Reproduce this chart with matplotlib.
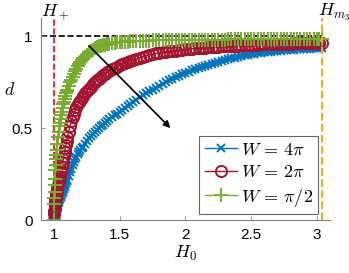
import matplotlib
matplotlib.use("Agg")
import matplotlib.pyplot as plt

plt.rcParams['mathtext.fontset'] = 'cm'
plt.rcParams['font.family'] = ['Liberation Sans', 'DejaVu Sans']

H0 = [1.000, 1.001, 1.002, 1.003, 1.005, 1.007, 1.010, 1.0125, 1.015, 1.0175,
      1.020, 1.025, 1.030, 1.035, 1.040, 1.045, 1.050, 1.055, 1.060, 1.065,
      1.070, 1.075, 1.080, 1.085, 1.090, 1.095, 1.100, 1.110, 1.120, 1.130,
      1.140, 1.150, 1.160, 1.170, 1.180, 1.190, 1.200, 1.210, 1.220, 1.235,
      1.250, 1.265, 1.280, 1.295, 1.310, 1.325, 1.340, 1.355, 1.370, 1.385,
      1.400, 1.420, 1.440, 1.460, 1.480, 1.500, 1.520, 1.540, 1.560, 1.580,
      1.600, 1.625, 1.650, 1.675, 1.700, 1.725, 1.750, 1.775, 1.800, 1.825,
      1.850, 1.875, 1.900, 1.925, 1.950, 1.975, 2.000, 2.025, 2.050, 2.075,
      2.100, 2.125, 2.150, 2.175, 2.200, 2.225, 2.250, 2.275, 2.300, 2.325,
      2.350, 2.375, 2.400, 2.425, 2.450, 2.475, 2.500, 2.525, 2.550, 2.575,
      2.600, 2.625, 2.650, 2.675, 2.700, 2.725, 2.750, 2.775, 2.800, 2.825,
      2.850, 2.875, 2.900, 2.925, 2.950, 2.975, 3.000, 3.020, 3.040]

d_4pi = [0.0, 0.015, 0.022, 0.028, 0.035, 0.042, 0.05, 0.056, 0.062, 0.068,
         0.073, 0.083, 0.092, 0.10, 0.108, 0.116, 0.124, 0.132, 0.14, 0.15,
         0.16, 0.17, 0.18, 0.19, 0.20, 0.21, 0.22, 0.24, 0.26, 0.28,
         0.30, 0.315, 0.33, 0.345, 0.36, 0.37, 0.38, 0.39, 0.40, 0.415,
         0.43, 0.445, 0.46, 0.47, 0.48, 0.49, 0.50, 0.51, 0.52, 0.53,
         0.54, 0.55, 0.56, 0.57, 0.58, 0.59, 0.60, 0.61, 0.62, 0.63,
         0.64, 0.655, 0.67, 0.68, 0.69, 0.70, 0.71, 0.72, 0.73, 0.74,
         0.75, 0.76, 0.77, 0.778, 0.785, 0.793, 0.80, 0.808, 0.815, 0.823,
         0.83, 0.835, 0.84, 0.845, 0.85, 0.855, 0.86, 0.865, 0.87, 0.875,
         0.88, 0.885, 0.89, 0.894, 0.897, 0.900, 0.903, 0.906, 0.908, 0.911,
         0.913, 0.915, 0.917, 0.919, 0.921, 0.9225, 0.924, 0.9255, 0.927, 0.9285,
         0.930, 0.931, 0.932, 0.933, 0.934, 0.935, 0.936, 0.937, 0.938]

d_2pi = [0.0, 0.035, 0.05, 0.06, 0.078, 0.092, 0.11, 0.122, 0.135, 0.145,
         0.155, 0.175, 0.19, 0.21, 0.225, 0.24, 0.26, 0.275, 0.29, 0.31,
         0.33, 0.35, 0.37, 0.39, 0.41, 0.43, 0.45, 0.48, 0.51, 0.54,
         0.56, 0.58, 0.60, 0.615, 0.63, 0.64, 0.65, 0.665, 0.675, 0.69,
         0.705, 0.715, 0.725, 0.74, 0.75, 0.76, 0.77, 0.78, 0.79, 0.797,
         0.805, 0.813, 0.82, 0.828, 0.835, 0.843, 0.85, 0.855, 0.86, 0.865,
         0.87, 0.877, 0.884, 0.89, 0.895, 0.90, 0.904, 0.907, 0.91, 0.913,
         0.916, 0.918, 0.92, 0.923, 0.925, 0.928, 0.93, 0.9315, 0.933, 0.9345,
         0.936, 0.9375, 0.939, 0.9405, 0.942, 0.943, 0.944, 0.945, 0.946, 0.947,
         0.948, 0.949, 0.950, 0.951, 0.952, 0.953, 0.954, 0.9545, 0.955, 0.956,
         0.957, 0.9575, 0.958, 0.9585, 0.959, 0.9595, 0.960, 0.9605, 0.961, 0.9615,
         0.962, 0.9625, 0.963, 0.9635, 0.964, 0.9645, 0.965, 0.9655, 0.966]

d_pi2 = [0.0, 0.085, 0.12, 0.15, 0.19, 0.225, 0.27, 0.30, 0.33, 0.355,
         0.38, 0.415, 0.45, 0.48, 0.51, 0.53, 0.55, 0.57, 0.59, 0.61,
         0.63, 0.645, 0.66, 0.675, 0.69, 0.70, 0.71, 0.73, 0.75, 0.765,
         0.78, 0.795, 0.81, 0.825, 0.84, 0.85, 0.86, 0.87, 0.88, 0.89,
         0.90, 0.91, 0.92, 0.928, 0.935, 0.94, 0.945, 0.949, 0.952, 0.955,
         0.958, 0.961, 0.963, 0.965, 0.967, 0.969, 0.970, 0.971, 0.972, 0.973,
         0.974, 0.975, 0.976, 0.9765, 0.977, 0.9775, 0.978, 0.9785, 0.979, 0.9795,
         0.980, 0.9805, 0.981, 0.981, 0.981, 0.9815, 0.982, 0.982, 0.982, 0.982,
         0.982, 0.982, 0.983, 0.983, 0.983, 0.983, 0.983, 0.983, 0.983, 0.984,
         0.984, 0.984, 0.984, 0.984, 0.984, 0.984, 0.984, 0.984, 0.984, 0.984,
         0.984, 0.984, 0.985, 0.985, 0.985, 0.985, 0.985, 0.985, 0.985, 0.985,
         0.985, 0.985, 0.985, 0.985, 0.985, 0.985, 0.985, 0.985, 0.985]

labels = [r'$W\,=\,4\pi$', r'$W\,=\,2\pi$', r'$W\,=\,\pi/2$']
H_plus = 1.0
H_m3 = 3.04
arrow_start = (1.25, 0.96)
arrow_end = (1.90, 0.49)

xticks = [1, 1.5, 2, 2.5, 3]
yticks = [0, 0.5, 1]

blue = '#0072BD'
red = '#A2142F'
green = '#77AC30'
orange = '#EDB120'

fig = plt.figure(figsize=(3.49, 2.73), dpi=100)
ax = fig.add_axes([0.1175, 0.194, 0.828, 0.740])

ax.plot([0.9, H_m3], [1, 1], '--', color='black', lw=1.2, zorder=1)
ax.plot([H_plus, H_plus], [0, 1.1], '--', color='red', lw=1.2, zorder=1)
ax.plot([H_m3, H_m3], [0, 1.1], '--', color=orange, lw=1.5, zorder=5)

ax.plot(H0, d_4pi, '-', color=blue, marker='x', ms=6, mew=1.4, lw=1.0, label=labels[0])
ax.plot(H0, d_2pi, '-', color=red, marker='o', ms=8, mew=1.4, mfc='none', lw=1.0, label=labels[1])
ax.plot(H0, d_pi2, '-', color=green, marker='+', ms=10, mew=1.4, lw=1.0, label=labels[2])

ax.annotate('', xy=arrow_end, xytext=arrow_start,
            arrowprops=dict(arrowstyle='-|>', color='black', lw=1.2, mutation_scale=10))

ax.set_xlim(0.9, 3.1)
ax.set_ylim(0, 1.1)
ax.set_xticks(xticks)
ax.set_xticklabels(['1', '1.5', '2', '2.5', '3'])
ax.set_yticks(yticks)
ax.set_yticklabels(['0', '0.5', '1'])
for s in ['top', 'right']:
    ax.spines[s].set_visible(False)
for s in ['left', 'bottom']:
    ax.spines[s].set_color('#808080')
    ax.spines[s].set_linewidth(0.8)
ax.tick_params(direction='in', length=3, width=0.6, color='#808080', labelsize=11, pad=6)

ax.set_xlabel(r'$H_0$', fontsize=13, labelpad=1)
ax.set_ylabel(r'$d$', fontsize=13, rotation=0, labelpad=8)
ax.yaxis.set_label_coords(-0.11, 0.6)

fig.text(55/349, 1-12/273, r'$H_+$', fontsize=13, ha='center', va='center')
fig.text(318/349, 1-12/273, r'$H_{m_3}$', fontsize=13, ha='left', va='center')

leg = ax.legend(loc='lower right', bbox_to_anchor=(0.96, 0.03), fontsize=13, frameon=True,
                fancybox=False, edgecolor='#404040', handlelength=1.8, handletextpad=0.2,
                borderpad=0.3, labelspacing=0.3, borderaxespad=0)
leg.get_frame().set_linewidth(0.8)

fig.savefig('out.png', dpi=100)
